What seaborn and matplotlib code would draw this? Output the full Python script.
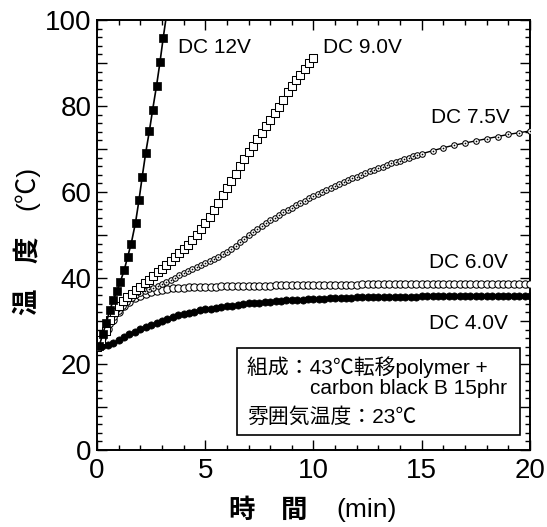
import matplotlib
matplotlib.use("Agg")
import matplotlib.pyplot as plt
import seaborn as sns
from matplotlib.patches import Rectangle
from matplotlib.ticker import MultipleLocator, FuncFormatter

# ---- measured heating curves (time in min, temperature in deg C) ----
t_12v = [0.1, 0.27, 0.42, 0.6, 0.75, 0.91, 1.07, 1.26, 1.42, 1.58,
         1.78, 1.94, 2.09, 2.25, 2.42, 2.57, 2.75, 2.91, 3.06, 3.22]
temp_12v = [24.2, 27.0, 29.5, 32.6, 34.8, 36.9, 39.0, 41.9, 45.0, 48.0,
            52.9, 58.1, 63.6, 69.1, 74.2, 79.1, 84.7, 90.2, 95.9, 101.5]

t_9v = [0.0, 0.2, 0.4, 0.6, 0.8, 1.0, 1.2, 1.4, 1.6, 1.8,
        2.0, 2.2, 2.4, 2.6, 2.8, 3.0, 3.2, 3.4, 3.6, 3.8,
        4.0, 4.2, 4.4, 4.6, 4.8, 5.0, 5.2, 5.4, 5.6, 5.8,
        6.0, 6.2, 6.4, 6.6, 6.8, 7.0, 7.2, 7.4, 7.6, 7.8,
        8.0, 8.2, 8.4, 8.6, 8.8, 9.0, 9.2, 9.4, 9.6, 9.8, 10.0]
temp_9v = [24.0, 25.5, 27.8, 30.2, 32.1, 33.5, 34.6, 35.6, 36.4, 37.2,
           38.0, 38.8, 39.6, 40.4, 41.3, 42.2, 43.1, 44.0, 45.0, 45.9,
           46.8, 47.8, 48.9, 50.1, 51.4, 52.8, 54.3, 55.9, 57.5, 59.2,
           60.9, 62.6, 64.3, 66.0, 67.6, 69.2, 70.8, 72.3, 73.8, 75.3,
           76.8, 78.3, 79.8, 81.3, 83.2, 84.6, 86.0, 87.3, 88.6, 89.9, 91.1]

t_75v = [0.0, 0.2, 0.4, 0.6, 0.8, 1.0, 1.2, 1.4, 1.6, 1.8,
         2.0, 2.2, 2.4, 2.6, 2.8, 3.0, 3.2, 3.4, 3.6, 3.8,
         4.0, 4.2, 4.4, 4.6, 4.8, 5.0, 5.2, 5.4, 5.6, 5.8,
         6.0, 6.2, 6.4, 6.6, 6.8, 7.0, 7.2, 7.4, 7.6, 7.8,
         8.0, 8.2, 8.4, 8.6, 8.8, 9.0, 9.2, 9.4, 9.6, 9.8,
         10.0, 10.2, 10.4, 10.6, 10.8, 11.0, 11.2, 11.4, 11.6, 11.8,
         12.0, 12.2, 12.4, 12.6, 12.8, 13.0, 13.2, 13.4, 13.6, 13.8,
         14.0, 14.2, 14.4, 14.6, 14.8, 15.0,
         15.5, 16.0, 16.5, 17.0, 17.5, 18.0, 18.5, 19.0, 19.5, 20.0]
temp_75v = [24.0, 25.9, 27.7, 29.4, 31.0, 32.4, 33.5, 34.5, 35.3, 36.0,
            36.6, 37.0, 37.4, 37.8, 38.2, 38.7, 39.1, 39.6, 40.1, 40.6,
            41.1, 41.6, 42.1, 42.6, 43.0, 43.4, 43.9, 44.4, 44.9, 45.5,
            46.1, 46.8, 47.5, 48.3, 49.1, 49.9, 50.6, 51.3, 52.0, 52.7,
            53.4, 54.0, 54.7, 55.3, 55.9, 56.4, 56.9, 57.4, 57.9, 58.5,
            59.0, 59.5, 60.0, 60.4, 60.9, 61.4, 61.8, 62.3, 62.7, 63.2,
            63.6, 64.0, 64.4, 64.8, 65.2, 65.6, 65.9, 66.3, 66.7, 67.0,
            67.3, 67.7, 68.0, 68.3, 68.6, 68.9,
            69.6, 70.3, 70.9, 71.4, 71.9, 72.4, 72.9, 73.4, 73.8, 74.2]

t_quarter = [0.0, 0.25, 0.5, 0.75, 1.0, 1.25, 1.5, 1.75, 2.0, 2.25,
             2.5, 2.75, 3.0, 3.25, 3.5, 3.75, 4.0, 4.25, 4.5, 4.75,
             5.0, 5.25, 5.5, 5.75, 6.0, 6.25, 6.5, 6.75, 7.0, 7.25,
             7.5, 7.75, 8.0, 8.25, 8.5, 8.75, 9.0, 9.25, 9.5, 9.75,
             10.0, 10.25, 10.5, 10.75, 11.0, 11.25, 11.5, 11.75, 12.0, 12.25,
             12.5, 12.75, 13.0, 13.25, 13.5, 13.75, 14.0, 14.25, 14.5, 14.75,
             15.0, 15.25, 15.5, 15.75, 16.0, 16.25, 16.5, 16.75, 17.0, 17.25,
             17.5, 17.75, 18.0, 18.25, 18.5, 18.75, 19.0, 19.25, 19.5, 19.75, 20.0]
temp_6v = [24.0, 26.0, 28.2, 30.3, 32.0, 33.4, 34.5, 35.3, 35.9, 36.4,
           36.8, 37.1, 37.3, 37.5, 37.6, 37.7, 37.8, 37.9, 37.9, 38.0,
           38.0, 38.0, 38.0, 38.1, 38.1, 38.1, 38.1, 38.2, 38.2, 38.2,
           38.2, 38.2, 38.2, 38.3, 38.3, 38.3, 38.3, 38.3, 38.3, 38.3,
           38.3, 38.4, 38.4, 38.4, 38.4, 38.4, 38.4, 38.4, 38.4, 38.5,
           38.5, 38.5, 38.5, 38.5, 38.5, 38.5, 38.5, 38.5, 38.5, 38.5,
           38.5, 38.6, 38.6, 38.6, 38.6, 38.6, 38.6, 38.6, 38.6, 38.6,
           38.6, 38.6, 38.6, 38.6, 38.6, 38.6, 38.6, 38.6, 38.6, 38.6, 38.6]
temp_4v = [24.0, 24.2, 24.5, 25.0, 25.6, 26.2, 26.9, 27.5, 28.1, 28.6,
           29.1, 29.6, 30.1, 30.5, 30.9, 31.3, 31.6, 31.9, 32.2, 32.5,
           32.7, 32.9, 33.1, 33.3, 33.5, 33.6, 33.8, 33.9, 34.1, 34.2,
           34.3, 34.4, 34.5, 34.6, 34.7, 34.8, 34.9, 34.9, 35.0, 35.1,
           35.1, 35.2, 35.2, 35.3, 35.3, 35.4, 35.4, 35.4, 35.5, 35.5,
           35.5, 35.6, 35.6, 35.6, 35.6, 35.7, 35.7, 35.7, 35.7, 35.7,
           35.8, 35.8, 35.8, 35.8, 35.8, 35.8, 35.8, 35.9, 35.9, 35.9,
           35.9, 35.9, 35.9, 35.9, 35.9, 35.9, 35.9, 35.9, 35.9, 35.9, 35.9]

voltage_labels = ["DC 12V", "DC 9.0V", "DC 7.5V", "DC 6.0V", "DC 4.0V"]
box_lines = ["組成：43℃転移polymer +", "carbon black B 15phr", "雰囲気温度：23℃"]
x_label_parts = ["時", "間", "(min)"]
y_label_parts = ["温", "度", "(℃)"]

sns.set_theme(style="ticks")
plt.rcParams["font.family"] = ["Liberation Sans", "Noto Sans CJK JP", "DejaVu Sans"]
plt.rcParams["axes.linewidth"] = 1.4

fig = plt.figure(figsize=(5.47, 5.27), dpi=100)
ax = fig.add_axes([0.1773, 0.146, 0.7916, 0.816])
ax.set_facecolor("white")
fig.patch.set_facecolor("white")

# DC 4.0 V : filled circles
sns.scatterplot(x=t_quarter, y=temp_4v, ax=ax, marker="o", s=27,
                color="black", edgecolor="black", linewidth=0.5, zorder=3)
# DC 6.0 V : open circles
sns.scatterplot(x=t_quarter, y=temp_6v, ax=ax, marker="o", s=28,
                color="white", edgecolor="black", linewidth=0.75, zorder=4)
# DC 7.5 V : dotted circles on a line
sns.lineplot(x=t_75v, y=temp_75v, ax=ax, color="black", linewidth=1.0,
             estimator=None, sort=False, zorder=5)
sns.scatterplot(x=t_75v, y=temp_75v, ax=ax, marker="o", s=16,
                color="white", edgecolor="black", linewidth=0.75, zorder=6)
sns.scatterplot(x=t_75v, y=temp_75v, ax=ax, marker="o", s=1.5,
                color="black", edgecolor="black", linewidth=0, zorder=7)
# DC 9.0 V : open squares
sns.scatterplot(x=t_9v, y=temp_9v, ax=ax, marker="s", s=34,
                color="white", edgecolor="black", linewidth=0.75, zorder=8)
# DC 12 V : filled squares on a line
sns.lineplot(x=t_12v, y=temp_12v, ax=ax, color="black", linewidth=1.2,
             estimator=None, sort=False, zorder=9)
sns.scatterplot(x=t_12v, y=temp_12v, ax=ax, marker="s", s=40,
                color="black", edgecolor="black", linewidth=0.5, zorder=10)

ax.set_xlim(0, 20)
ax.set_ylim(0, 100)
ax.xaxis.set_major_locator(MultipleLocator(5))
ax.xaxis.set_minor_locator(MultipleLocator(1))
ax.yaxis.set_major_locator(MultipleLocator(10))
ax.yaxis.set_minor_locator(MultipleLocator(2))
ax.yaxis.set_major_formatter(FuncFormatter(lambda v, p: f"{int(v)}" if int(round(v)) % 20 == 0 else ""))
ax.tick_params(which="both", direction="in", top=True, right=True,
               colors="black", width=1.0)
ax.tick_params(which="major", length=7, labelsize=20, pad=4)
ax.tick_params(which="minor", length=3.5)
ax.tick_params(axis="x", which="major", pad=6)
for sp in ax.spines.values():
    sp.set_color("black")
    sp.set_linewidth(1.4)
ax.set_xlabel("")
ax.set_ylabel("")

# series labels
lab_kw = dict(fontsize=15, color="black", va="center")
ax.text(3.74, 93.7, voltage_labels[0], ha="left", **lab_kw)
ax.text(10.44, 93.5, voltage_labels[1], ha="left", **lab_kw)
ax.text(19.05, 77.4, voltage_labels[2], ha="right", **lab_kw)
ax.text(19.0, 43.5, voltage_labels[3], ha="right", **lab_kw)
ax.text(19.0, 29.5, voltage_labels[4], ha="right", **lab_kw)

# composition note box
ax.add_patch(Rectangle((6.47, 3.4), 13.07, 20.3, facecolor="white",
                       edgecolor="black", linewidth=1.2, zorder=11))
box_kw = dict(fontsize=15, color="black", va="center", ha="left", zorder=12)
ax.text(6.93, 19.3, box_lines[0], **box_kw)
ax.text(9.84, 14.4, box_lines[1], **box_kw)
ax.text(6.93, 7.7, box_lines[2], **box_kw)

# axis titles
cjk_kw = dict(fontsize=19, color="black", ha="center", va="center",
              family=["Noto Sans CJK JP"], fontweight="bold")
fig.text(241 / 547, 1 - 510 / 527, x_label_parts[0], **cjk_kw)
fig.text(294 / 547, 1 - 510 / 527, x_label_parts[1], **cjk_kw)
fig.text(367 / 547, 1 - 510 / 527, x_label_parts[2], fontsize=19, color="black",
         ha="center", va="center")
fig.text(27 / 547, 1 - 302 / 527, y_label_parts[0], rotation=90, **cjk_kw)
fig.text(27 / 547, 1 - 250 / 527, y_label_parts[1], rotation=90, **cjk_kw)
fig.text(27 / 547, 1 - 188 / 527, y_label_parts[2], rotation=90, fontsize=19,
         color="black", ha="center", va="center",
         family=["Liberation Sans", "Noto Sans CJK JP"])

fig.savefig("out.png", dpi=100, facecolor="white")
